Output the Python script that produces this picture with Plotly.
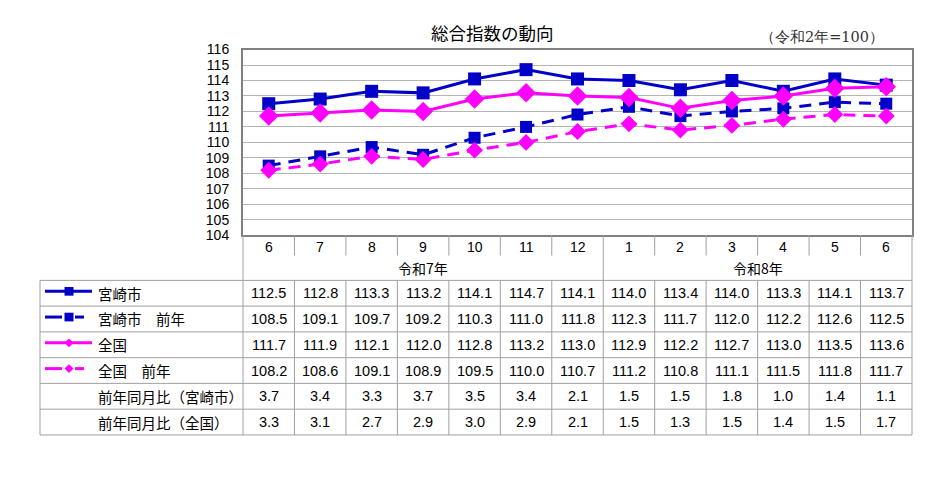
import plotly.graph_objects as go

# data
months = ["6", "7", "8", "9", "10", "11", "12", "1", "2", "3", "4", "5", "6"]
years = ["令和7年", "令和8年"]
year_spans = [(0, 6), (7, 12)]  # first / last column of each year
miyazaki = [112.5, 112.8, 113.3, 113.2, 114.1, 114.7, 114.1, 114.0, 113.4, 114.0, 113.3, 114.1, 113.7]
miyazaki_prev = [108.5, 109.1, 109.7, 109.2, 110.3, 111.0, 111.8, 112.3, 111.7, 112.0, 112.2, 112.6, 112.5]
zenkoku = [111.7, 111.9, 112.1, 112.0, 112.8, 113.2, 113.0, 112.9, 112.2, 112.7, 113.0, 113.5, 113.6]
zenkoku_prev = [108.2, 108.6, 109.1, 108.9, 109.5, 110.0, 110.7, 111.2, 110.8, 111.1, 111.5, 111.8, 111.7]
yoy_miyazaki = [3.7, 3.4, 3.3, 3.7, 3.5, 3.4, 2.1, 1.5, 1.5, 1.8, 1.0, 1.4, 1.1]
yoy_zenkoku = [3.3, 3.1, 2.7, 2.9, 3.0, 2.9, 2.1, 1.5, 1.3, 1.5, 1.4, 1.5, 1.7]
row_labels = ["宮崎市", "宮崎市　前年", "全国", "全国　前年", "前年同月比（宮崎市）", "前年同月比（全国）"]

# the page has an 8px body margin, so the figure is a bit smaller than the window
PAD = 8
W, H = 933 - 2 * PAD, 487 - 2 * PAD
BLUE = "#0000C8"
PINK = "#FF00FF"
GRID = "#B4B4B4"
FONT = "Noto Sans CJK JP"
NUMFONT = "Liberation Sans"


def px(x):  # screen pixel -> paper x
    return (x - PAD) / W


def py(y):  # screen pixel -> paper y
    return 1 - (y - PAD) / H


xs = list(range(len(months)))
fig = go.Figure()

series = [
    (miyazaki, BLUE, "solid", "square", 13),
    (miyazaki_prev, BLUE, "12px,8px", "square", 12),
    (zenkoku, PINK, "solid", "diamond", 15),
    (zenkoku_prev, PINK, "12px,8px", "diamond", 13),
]
for vals, col, dash, sym, size in series:
    fig.add_trace(go.Scatter(
        x=xs, y=vals, mode="lines+markers",
        line=dict(color=col, width=3, dash=dash),
        marker=dict(symbol=sym, size=size, color=col),
        showlegend=False, cliponaxis=False,
    ))

shapes = []
annotations = []


def label(x, y, text, size=13, xref="paper", xanchor="center", color="black", family=FONT):
    annotations.append(dict(x=x, y=y, xref=xref, yref="paper", text=text, showarrow=False,
                            xanchor=xanchor, yanchor="middle",
                            font=dict(size=size, color=color, family=family)))


# table grid lines
line_style = dict(color="#A0A0A0", width=1)
row_edges = [281.7, 308.3, 335, 361.7, 388.3, 415, 441.7]
for y in row_edges:
    shapes.append(dict(type="line", xref="paper", yref="paper", x0=px(40), x1=px(912),
                       y0=py(y), y1=py(y), line=line_style))
shapes.append(dict(type="line", xref="paper", yref="paper", x0=px(40), x1=px(40),
                   y0=py(281.7), y1=py(441.7), line=line_style))
for x in [243, 912]:
    shapes.append(dict(type="line", xref="paper", yref="paper", x0=px(x), x1=px(x),
                       y0=py(235), y1=py(441.7), line=line_style))
for i in range(len(months) - 1):
    xc = i + 0.5
    if i == year_spans[0][1]:
        shapes.append(dict(type="line", xref="x", yref="paper", x0=xc, x1=xc,
                           y0=py(235), y1=py(441.7), line=line_style))
    else:
        shapes.append(dict(type="line", xref="x", yref="paper", x0=xc, x1=xc,
                           y0=py(235), y1=py(256), line=line_style))
        shapes.append(dict(type="line", xref="x", yref="paper", x0=xc, x1=xc,
                           y0=py(281.7), y1=py(441.7), line=line_style))

# month row and year row
for i, m in enumerate(months):
    label(i, py(247), m, size=14, xref="x", family=NUMFONT)
for name, (a, b) in zip(years, year_spans):
    label((a + b) / 2, py(269), name, size=14, xref="x")

# data rows
table_rows = [miyazaki, miyazaki_prev, zenkoku, zenkoku_prev, yoy_miyazaki, yoy_zenkoku]
for r, vals in enumerate(table_rows):
    yc = (row_edges[r] + row_edges[r + 1]) / 2
    for i, v in enumerate(vals):
        label(i, py(yc), f"{v:.1f}", size=14.5, xref="x", family=NUMFONT)
    label(px(96), py(yc), row_labels[r], size=14.5, xanchor="left")


# legend samples in the left column
def square(cx, cy, s, col):
    return dict(type="rect", xref="paper", yref="paper", x0=px(cx - s / 2), x1=px(cx + s / 2),
                y0=py(cy + s / 2), y1=py(cy - s / 2), fillcolor=col, line=dict(width=0))


def diamond(cx, cy, s, col):
    path = (f"M {px(cx - s / 2)} {py(cy)} L {px(cx)} {py(cy - s / 2)} "
            f"L {px(cx + s / 2)} {py(cy)} L {px(cx)} {py(cy + s / 2)} Z")
    return dict(type="path", xref="paper", yref="paper", path=path, fillcolor=col, line=dict(width=0))


for r, (col, solid, mk) in enumerate([(BLUE, True, "s"), (BLUE, False, "s"),
                                      (PINK, True, "d"), (PINK, False, "d")]):
    yc = (row_edges[r] + row_edges[r + 1]) / 2 - 2
    segs = [(45, 92)] if solid else [(45, 62), (75, 84)]
    for a, b in segs:
        shapes.append(dict(type="line", xref="paper", yref="paper", x0=px(a), x1=px(b),
                           y0=py(yc), y1=py(yc), line=dict(color=col, width=3)))
    shapes.append(square(69, yc, 9, col) if mk == "s" else diamond(69, yc, 9, col))

# titles
label(px(492), py(25), "総合指数の動向", size=17.5)
label(px(822), py(30), "（令和2年=100）", size=14.5, color="#333333", family="DejaVu Serif")

fig.update_layout(
    width=W, height=H, autosize=False,
    margin=dict(l=0, r=0, t=0, b=0),
    paper_bgcolor="white", plot_bgcolor="white",
    shapes=shapes, annotations=annotations,
    xaxis=dict(domain=[px(243), px(912)], range=[-0.5, 12.5], showticklabels=False,
               showgrid=False, zeroline=False, showline=True, linecolor="#808080",
               linewidth=2, mirror=True, fixedrange=True),
    yaxis=dict(domain=[py(235), py(42.7)], range=[104, 116], dtick=1,
               showgrid=True, gridcolor=GRID, gridwidth=1, zeroline=False,
               showline=True, linecolor="#808080", linewidth=2, mirror=True,
               tickfont=dict(size=14, color="black", family=NUMFONT),
               ticklabelstandoff=9, fixedrange=True),
)

fig.write_html("out.html")
